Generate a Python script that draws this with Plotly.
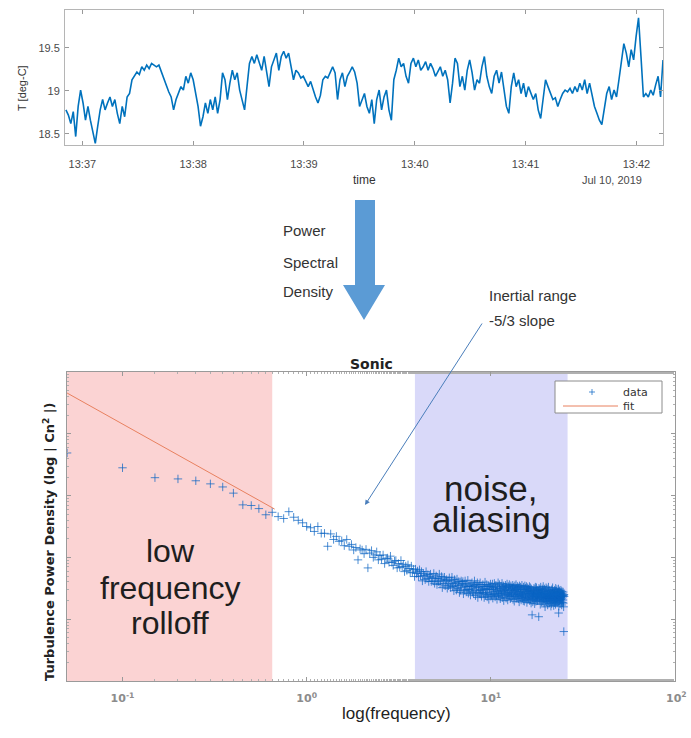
import plotly.graph_objects as go
import pandas as pd

W, H = 691, 738


def px(x):
    return x / W


def py(y):
    return 1 - y / H


# ---------------- sonic temperature record (evenly sampled) ----------------
t_first = "2019-07-10 13:36:51.1"
t_last = "2019-07-10 13:42:14.4"
time_range = ["2019-07-10 13:36:50.6", "2019-07-10 13:42:14.4"]
temp_c = [
    18.78, 18.72, 18.62, 18.76, 18.47, 18.82, 19.01, 18.86, 18.66, 18.82,
    18.66, 18.51, 18.39, 18.59, 18.78, 18.90, 18.78, 18.86, 18.93, 18.82,
    18.90, 18.74, 18.62, 18.82, 18.70, 18.93, 18.97, 19.13, 19.17, 19.22,
    19.19, 19.28, 19.24, 19.30, 19.26, 19.32, 19.30, 19.28, 19.30, 19.22,
    19.13, 19.07, 18.99, 18.93, 18.78, 18.90, 18.97, 19.05, 19.01, 19.17,
    19.09, 19.21, 19.13, 18.97, 18.82, 18.59, 18.70, 18.86, 18.74, 18.90,
    18.78, 18.93, 18.74, 18.90, 19.21, 19.13, 18.90, 19.09, 19.24, 19.13,
    19.21, 19.01, 18.90, 18.78, 19.05, 19.32, 19.40, 19.32, 19.42, 19.34,
    19.24, 19.40, 19.21, 19.05, 19.28, 19.36, 19.44, 19.24, 19.40, 19.46,
    19.38, 19.44, 19.28, 19.13, 19.24, 19.21, 19.15, 19.17, 19.11, 19.05,
    19.11, 19.01, 18.93, 18.86, 18.95, 19.13, 19.17, 19.15, 19.22, 19.28,
    19.21, 18.90,
    19.13, 19.21, 19.05, 19.17, 19.22, 19.28, 19.22, 19.09, 18.82, 18.90,
    18.97, 18.82, 18.74, 18.90, 18.62, 18.90, 19.01, 18.78, 18.93, 19.01,
    18.78, 18.66, 19.13, 19.24, 19.38, 19.28, 19.32, 19.17, 19.09, 19.32,
    19.38, 19.28, 19.36, 19.24, 19.28, 19.34, 19.24, 19.32, 19.26, 19.17,
    19.22, 19.28, 19.17, 19.24, 19.13, 18.86, 19.09, 19.38, 19.32, 19.05,
    19.17, 19.01, 19.24, 19.36, 19.21, 19.01, 19.13, 19.09, 19.28, 19.40,
    19.17, 19.05, 18.97, 19.17, 19.24, 19.09, 19.22, 19.01, 18.82, 18.74,
    19.05, 19.21, 19.05, 19.13, 18.97, 19.09, 18.93, 19.05, 18.97, 18.90,
    18.97, 18.78, 18.68, 18.90, 19.13, 19.05, 18.97, 18.90, 18.92, 18.82,
    18.90, 18.97, 19.01, 18.99, 19.03, 18.97, 19.05, 18.99, 19.09, 19.01,
    19.13, 18.97, 19.09, 18.97, 18.82, 18.74, 18.66, 18.61, 18.78, 18.97,
    19.05, 18.90, 19.01, 18.93, 19.13, 19.36, 19.55, 19.44, 19.28, 19.48,
    19.36, 19.63, 19.85, 19.40, 18.93, 18.97, 18.93, 19.01, 18.95, 19.07,
    19.17, 18.93, 19.36,
]
time = pd.date_range(t_first, t_last, periods=len(temp_c))
top_tick_times = ["2019-07-10 13:37", "2019-07-10 13:38", "2019-07-10 13:39",
                  "2019-07-10 13:40", "2019-07-10 13:41", "2019-07-10 13:42"]
top_tick_text = ["13:37", "13:38", "13:39", "13:40", "13:41", "13:42"]
temp_ticks = [18.5, 19, 19.5]
temp_tick_text = ["18.5", "19", "19.5"]

# ---------------- power spectral density ----------------
# FFT bins every 0.05 Hz up to 25 Hz
freq_bins = [round(0.05 * k, 2) for k in range(1, 501)]
psd_log10 = [
    -1.31, -1.55, -1.71, -1.73, -1.76, -1.81, -1.86, -1.96, -2.15, -2.16,
    -2.21, -2.31, -2.27, -2.34, -2.37, -2.26, -2.35, -2.40, -2.44, -2.50,
    -2.52, -2.58, -2.50, -2.61, -2.61, -2.82, -2.62, -2.71, -2.66, -2.74,
    -2.73, -2.81, -2.71, -2.82, -2.79, -2.88, -2.84, -3.04, -2.86, -2.88,
    -2.94, -2.87, -3.17, -2.93, -2.89, -3.00, -2.96, -2.91, -3.04, -2.97,
    -3.03, -2.96, -3.10, -3.02, -3.01, -3.08, -2.98, -3.08, -3.13, -3.06,
    -3.05, -3.17, -3.10, -3.16, -3.05, -3.15, -3.11, -3.23, -3.14, -3.21,
    -3.12, -3.18, -3.25, -3.14, -3.24, -3.19, -3.31, -3.19, -3.26, -3.22,
    -3.31, -3.20, -3.30, -3.23, -3.38, -3.26, -3.29, -3.36, -3.23, -3.34,
    -3.28, -3.39, -3.31, -3.27, -3.39, -3.33, -3.38, -3.26, -3.42, -3.34,
    -3.30, -3.44, -3.34, -3.39, -3.27, -3.43, -3.37, -3.31, -3.49, -3.35,
    -3.42, -3.32, -3.46, -3.38, -3.36, -3.50, -3.38, -3.46, -3.33, -3.43,
    -3.49, -3.38, -3.32, -3.47, -3.42, -3.54, -3.36, -3.46, -3.41, -3.53,
    -3.35, -3.50, -3.45, -3.39, -3.57, -3.43, -3.53, -3.38, -3.49, -3.42,
    -3.39, -3.59, -3.45, -3.53, -3.38, -3.47, -3.56, -3.43, -3.52, -3.37,
    -3.58, -3.47, -3.53, -3.43, -3.61, -3.46, -3.51, -3.41, -3.56, -3.47,
    -3.59, -3.45, -3.38, -3.53, -3.62, -3.44, -3.49, -3.57, -3.41, -3.65,
    -3.48, -3.54, -3.44, -3.59, -3.41, -3.57, -3.52, -3.63, -3.47, -3.54,
    -3.44, -3.58, -3.50, -3.65, -3.47, -3.40, -3.61, -3.52, -3.57, -3.44,
    -3.64, -3.50, -3.60, -3.46, -3.68, -3.52, -3.47, -3.58, -3.43, -3.63,
    -3.47, -3.61, -3.52, -3.43, -3.66, -3.55, -3.49, -3.60, -3.42, -3.58,
    -3.64, -3.50, -3.45, -3.62, -3.53, -3.68, -3.48, -3.56, -3.41, -3.59,
    -3.63, -3.51, -3.44, -3.58, -3.67, -3.53, -3.47, -3.61, -3.55, -3.42,
    -3.65, -3.50, -3.59, -3.46, -3.70, -3.54, -3.49, -3.62, -3.57, -3.45,
    -3.52, -3.66, -3.48, -3.60, -3.43, -3.58, -3.69, -3.54, -3.47, -3.63,
    -3.56, -3.44, -3.61, -3.50, -3.67, -3.53, -3.46, -3.64, -3.58, -3.49,
    -3.62, -3.51, -3.45, -3.68, -3.57, -3.48, -3.60, -3.71, -3.54, -3.46,
    -3.63, -3.52, -3.59, -3.44, -3.66, -3.55, -3.50, -3.64, -3.47, -3.61,
    -3.53, -3.67, -3.49, -3.58, -3.72, -3.46, -3.61, -3.55, -3.64, -3.48,
    -3.57, -3.69, -3.51, -3.62, -3.45, -3.60, -3.66, -3.52, -3.58, -3.70,
    -3.48, -3.63, -3.56, -3.71, -3.52, -3.46, -3.65, -3.59, -3.50, -3.68,
    -3.61, -3.47, -3.55, -3.73, -3.58, -3.49, -3.64, -3.54, -3.67, -3.51,
    -3.66, -3.53, -3.59, -3.47, -3.70, -3.62, -3.55, -3.49, -3.68, -3.57,
    -3.74, -3.51, -3.63, -3.58, -3.93, -3.65, -3.60, -3.72, -3.54, -3.61,
    -3.56, -3.69, -3.50, -3.63, -3.58, -3.75, -3.52, -3.66, -3.48, -3.61,
    -3.71, -3.55, -3.64, -3.49, -3.67, -3.59, -3.53, -3.70, -3.62, -3.57,
    -3.68, -3.54, -3.60, -3.96, -3.50, -3.65, -3.57, -3.69, -3.52, -3.63,
    -3.76, -3.58, -3.48, -3.66, -3.61, -3.55, -3.72, -3.59, -3.64, -3.51,
    -3.59, -3.71, -3.53, -3.65, -3.47, -3.68, -3.62, -3.56, -3.74, -3.60,
    -3.51, -3.67, -3.58, -3.80, -3.63, -3.54, -3.70, -3.61, -3.49, -3.66,
    -3.72, -3.58, -3.64, -3.51, -3.69, -3.60, -3.77, -3.55, -3.66, -3.62,
    -3.48, -3.71, -3.59, -3.65, -3.53, -3.74, -3.61, -3.68, -3.56, -3.63,
    -3.57, -3.70, -3.62, -3.79, -3.54, -3.67, -3.60, -3.75, -3.52, -3.64,
    -3.69, -3.58, -3.49, -3.72, -3.63, -3.56, -3.68, -3.61, -3.78, -3.55,
    -3.66, -3.59, -3.73, -3.53, -3.65, -3.70, -3.57, -3.62, -3.76, -3.50,
    -3.68, -3.63, -3.55, -3.71, -3.60, -3.66, -3.52, -3.74, -3.64, -3.58,
    -3.69, -3.61, -3.56, -3.72, -3.64, -3.51, -3.90, -3.79, -3.58, -3.63,
    -3.70, -3.54, -3.66, -3.60, -3.75, -3.57, -3.64, -3.62, -3.68, -3.53,
    -3.65, -3.71, -3.58, -3.63, -3.77, -3.55, -3.67, -3.61, -3.73, -3.59,
    -3.62, -3.64, -3.69, -3.56, -3.74, -3.62, -3.80, -4.20, -3.60, -3.63,
]
psd = [10 ** v for v in psd_log10]

# -5/3 fit through the low-frequency end
fit_freq = [0.05, 0.67]
fit_psd = [0.457, 0.00605]

rolloff_band = [0.05, 0.65]
noise_band = [3.87, 26.1]
freq_ticks = [0.1, 1, 10, 100]
# the last decade label sits at the panel's right edge; it is drawn as a
# right-anchored annotation so it stays inside the page
freq_tick_text = ["10<sup>-1</sup>", "10<sup>0</sup>", "10<sup>1</sup>", ""]
edge_tick_text = "10<sup>2</sup>"

MATLAB_BLUE = "#0072BD"
DATA_BLUE = "rgba(10,100,195,0.72)"
FIT_ORANGE = "#e8805f"
AX_GREY = "#b5b5b5"
SANS = "Liberation Sans, Arial, sans-serif"
WIDE = "DejaVu Sans, Verdana, sans-serif"
NARROW = "Liberation Sans Narrow, Liberation Sans, Arial, sans-serif"
TICK_FONT = dict(size=11, color="#8c8c8c", family=WIDE, weight="bold")

fig = go.Figure()

fig.add_trace(go.Scatter(
    x=time, y=temp_c, mode="lines",
    line=dict(color=MATLAB_BLUE, width=1.6),
    xaxis="x", yaxis="y", showlegend=False,
))

fig.add_trace(go.Scatter(
    x=freq_bins, y=psd, mode="markers", name="data",
    marker=dict(symbol="cross-thin", size=6,
                line=dict(color=DATA_BLUE, width=1)),
    xaxis="x2", yaxis="y2", showlegend=False,
))
fig.add_trace(go.Scatter(
    x=fit_freq, y=fit_psd, mode="lines", name="fit",
    line=dict(color=FIT_ORANGE, width=1),
    xaxis="x2", yaxis="y2", showlegend=False,
))

fig.update_layout(
    width=W, height=H,
    margin=dict(l=0, r=0, t=0, b=0),
    paper_bgcolor="white", plot_bgcolor="white",
    font=dict(family=SANS, color="#333333"),
    showlegend=False,
    xaxis=dict(
        domain=[px(65), px(663)], anchor="y", type="date",
        range=time_range, tickvals=top_tick_times, ticktext=top_tick_text,
        ticks="inside", ticklen=4, tickcolor="#999999",
        showline=True, linecolor=AX_GREY, mirror="ticks",
        showgrid=False, zeroline=False, ticklabelstandoff=9,
        tickfont=dict(size=11, color="#4a4a4a"),
    ),
    yaxis=dict(
        domain=[py(145), py(10)], anchor="x",
        range=[18.372, 19.94], tickvals=temp_ticks, ticktext=temp_tick_text,
        ticks="inside", ticklen=4, tickcolor="#999999",
        showline=True, linecolor=AX_GREY, mirror="ticks",
        showgrid=False, zeroline=False, ticklabelstandoff=2,
        tickfont=dict(size=11, color="#4a4a4a"),
    ),
    xaxis2=dict(
        domain=[px(67), px(675)], anchor="y2", type="log",
        range=[-1.3015, 2], tickvals=freq_ticks, ticktext=freq_tick_text,
        ticks="inside", ticklen=4, tickcolor="#999999",
        minor=dict(ticks="inside", ticklen=2, tickcolor="#b0b0b0"),
        showline=True, linecolor="#9a9a9a", mirror="allticks",
        showgrid=False, zeroline=False, ticklabelstandoff=7,
        tickfont=TICK_FONT,
    ),
    yaxis2=dict(
        domain=[py(681), py(372)], anchor="x2", type="log",
        range=[-5, 0], dtick=1, showticklabels=False,
        ticks="inside", ticklen=4, tickcolor="#999999",
        minor=dict(ticks="inside", ticklen=2, tickcolor="#b0b0b0"),
        showline=True, linecolor="#9a9a9a", mirror="allticks",
        showgrid=False, zeroline=False,
    ),
)

# shaded frequency bands
fig.add_shape(type="rect", xref="x2", yref="y2 domain",
              x0=rolloff_band[0], x1=rolloff_band[1], y0=0, y1=1,
              fillcolor="#fbd3d3", line=dict(width=0), layer="below")
fig.add_shape(type="rect", xref="x2", yref="y2 domain",
              x0=noise_band[0], x1=noise_band[1], y0=0, y1=1,
              fillcolor="#d9d9f9", line=dict(width=0), layer="below")

# block arrow between the panels
arrow_pts = [(355, 200), (375, 200), (375, 285), (385, 285), (364, 320),
             (343, 285), (355, 285)]
path = "M " + " L ".join(f"{px(x):.5f},{py(y):.5f}" for x, y in arrow_pts) + " Z"
fig.add_shape(type="path", xref="paper", yref="paper", path=path,
              fillcolor="#5b9bd5", line=dict(width=0))

# legend box for the spectrum panel
fig.add_shape(type="rect", xref="paper", yref="paper",
              x0=px(555), x1=px(662), y0=py(413), y1=py(381),
              fillcolor="white", line=dict(color="#8c8c8c", width=1))
fig.add_shape(type="line", xref="paper", yref="paper",
              x0=px(589), x1=px(595), y0=py(392), y1=py(392),
              line=dict(color=DATA_BLUE, width=1))
fig.add_shape(type="line", xref="paper", yref="paper",
              x0=px(592), x1=px(592), y0=py(389), y1=py(395),
              line=dict(color=DATA_BLUE, width=1))
fig.add_shape(type="line", xref="paper", yref="paper",
              x0=px(563), x1=px(618), y0=py(406), y1=py(406),
              line=dict(color=FIT_ORANGE, width=1))


def label(text, x, y, size, color="#333333", family=SANS, xanchor="center",
          angle=0, weight=None):
    fnt = dict(size=size, color=color, family=family)
    if weight:
        fnt["weight"] = weight
    fig.add_annotation(text=text, x=px(x), y=py(y), xref="paper", yref="paper",
                       showarrow=False, xanchor=xanchor, yanchor="middle",
                       textangle=angle, font=fnt)


label("data", 621, 392, 11, color="#333333", family=WIDE, xanchor="left")
label("fit", 621, 406, 11, color="#333333", family=WIDE, xanchor="left")
label(edge_tick_text, 689, 697, TICK_FONT["size"], color=TICK_FONT["color"],
      family=WIDE, xanchor="right", weight="bold")

# top panel labels
label("T [deg-C]", 22, 88, 11, angle=-90)
label("time", 364, 180, 12)
label("Jul 10, 2019", 612, 180, 11, color="#4a4a4a")

# diagram text
label("Power", 281, 230, 15, family=NARROW, xanchor="left")
label("Spectral", 281, 262, 15, family=NARROW, xanchor="left")
label("Density", 281, 292, 15, family=NARROW, xanchor="left")
label("Inertial range", 487, 295, 15, family=NARROW, xanchor="left")
label("-5/3 slope", 487, 320, 15, family=NARROW, xanchor="left")

# pointer from the inertial-range note down to the spectrum
fig.add_annotation(x=px(365), y=py(505), xref="paper", yref="paper",
                   ax=483 - 365, ay=322 - 505, axref="pixel", ayref="pixel",
                   text="", showarrow=True, arrowhead=2, arrowsize=1,
                   arrowwidth=1, arrowcolor="#4a7ebb")

# bottom panel labels
label("Sonic", 371, 364, 14, color="#222222", family=WIDE, weight="bold")
label("Turbulence Power Density (log | Cn<sup>2</sup> |)", 49, 542, 13,
      color="#222222", family=WIDE, angle=-90, weight="bold")
label("log(frequency)", 397, 713, 17, family=NARROW, color="#222222")

label("low", 170, 551, 32, color="#1e1e1e")
label("frequency", 170, 588, 32, color="#1e1e1e")
label("rolloff", 170, 623, 32, color="#1e1e1e")
label("noise,", 490, 488, 35, color="#1e1e1e")
label("aliasing", 492, 519, 35, color="#1e1e1e")

fig.write_html("out.html")
